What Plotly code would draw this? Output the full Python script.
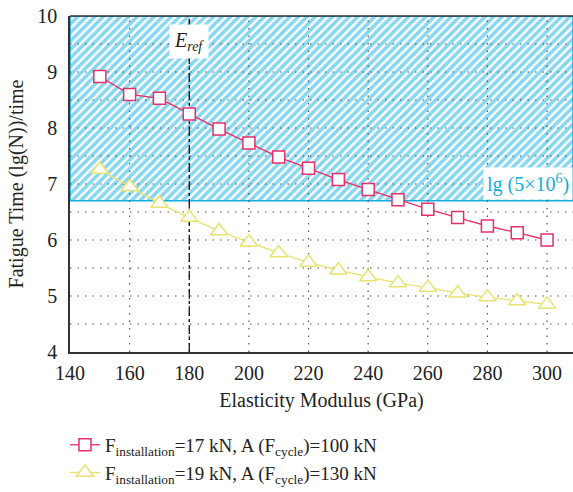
import plotly.graph_objects as go

modulus = [150, 160, 170, 180, 190, 200, 210, 220, 230, 240, 250, 260, 270, 280, 290, 300]
series_a = [8.92, 8.60, 8.53, 8.25, 7.98, 7.73, 7.48, 7.28, 7.08, 6.90, 6.72, 6.55, 6.40, 6.25, 6.13, 6.00]
series_b = [7.26, 6.95, 6.65, 6.40, 6.16, 5.96, 5.77, 5.60, 5.46, 5.34, 5.23, 5.15, 5.05, 4.98, 4.91, 4.85]
name_a = "F<sub>installation</sub>=17 kN, A (F<sub>cycle</sub>)=100 kN"
name_b = "F<sub>installation</sub>=19 kN, A (F<sub>cycle</sub>)=130 kN"
x_ticks = [140, 160, 180, 200, 220, 240, 260, 280, 300]
y_ticks = [4, 5, 6, 7, 8, 9, 10]
x_grid = [160, 180, 200, 220, 240, 260, 280, 300]
y_grid = [4.5, 5, 5.5, 6, 6.5, 7, 7.5, 8, 8.5, 9, 9.5]
x_range = [140, 308.7]
y_range = [4, 10]
threshold = 6.699  # lg(5e6)
e_ref = 180

FONT = "Times New Roman, Liberation Serif, serif"
RED = "#e5306a"
YEL = "#e9e26e"
CYAN = "#12ade0"
TXT = "#222222"

fig = go.Figure()

# hatched region
fig.add_trace(go.Scatter(
    x=[x_range[0], x_range[1], x_range[1], x_range[0], x_range[0]],
    y=[threshold, threshold, y_range[1], y_range[1], threshold],
    fill="toself", mode="lines", line=dict(color=CYAN, width=1.5),
    fillcolor="rgba(0,0,0,0)",
    fillpattern=dict(shape="/", fgcolor=CYAN, bgcolor="white", size=6, solidity=0.6),
    showlegend=False, hoverinfo="skip"))

# grid lines as dotted traces above the hatch
gx, gy = [], []
for v in y_grid:
    gx += [x_range[0], x_range[1], None]
    gy += [v, v, None]
for v in x_grid:
    gx += [v, v, None]
    gy += [y_range[0], y_range[1], None]
fig.add_trace(go.Scatter(x=gx, y=gy, mode="lines",
                         line=dict(color="#555555", width=1.2, dash="1.5px,6px"),
                         showlegend=False, hoverinfo="skip"))

# E_ref line
fig.add_trace(go.Scatter(x=[e_ref, e_ref], y=y_range, mode="lines",
                         line=dict(color="black", width=1.2, dash="dashdot"),
                         showlegend=False, hoverinfo="skip"))

fig.add_trace(go.Scatter(
    x=modulus, y=series_a, name=name_a, mode="lines+markers",
    line=dict(color=RED, width=1.3),
    marker=dict(symbol="square", size=12, color="white", line=dict(color=RED, width=1.5))))
fig.add_trace(go.Scatter(
    x=modulus, y=series_b, name=name_b, mode="lines+markers",
    line=dict(color=YEL, width=1.3),
    marker=dict(symbol="triangle-up", size=15, color="white", line=dict(color=YEL, width=1.5))))

fig.add_annotation(x=e_ref, y=9.55, text="<i>E<sub>ref</sub></i>", showarrow=False,
                   bgcolor="white", font=dict(family=FONT, size=20, color=TXT),
                   xanchor="center", yanchor="middle", borderpad=4)
fig.add_annotation(x=x_range[1], y=threshold, text="lg (5×10<sup>6</sup>)", showarrow=False,
                   bgcolor="white", font=dict(family=FONT, size=20, color=CYAN),
                   xanchor="right", yanchor="bottom", borderpad=3, yshift=1)

fig.update_layout(
    width=573, height=492,
    margin=dict(l=70, r=0, t=16, b=138),
    paper_bgcolor="white", plot_bgcolor="white",
    font=dict(family=FONT, size=20, color=TXT),
    legend=dict(x=-0.01, y=-0.22, xanchor="left", yanchor="top",
                font=dict(family=FONT, size=19, color=TXT),
                bgcolor="rgba(0,0,0,0)", tracegroupgap=0, itemwidth=30),
)
fig.update_xaxes(range=x_range, tickvals=x_ticks, showgrid=False, zeroline=False,
                 showline=True, linecolor="#333333", linewidth=1.5, ticks="",
                 ticklabelstandoff=2,
                 title=dict(text="Elasticity Modulus (GPa)", standoff=10,
                            font=dict(family=FONT, size=20, color=TXT)),
                 tickfont=dict(family=FONT, size=20, color=TXT))
fig.update_yaxes(range=y_range, tickvals=y_ticks, showgrid=False, zeroline=False,
                 showline=True, linecolor="#333333", linewidth=1.5, ticks="",
                 ticklabelstandoff=7,
                 title=dict(text="Fatigue Time (lg(N))/time", standoff=8,
                            font=dict(family=FONT, size=20, color=TXT)),
                 tickfont=dict(family=FONT, size=20, color=TXT))
# top border
fig.add_shape(type="line", xref="paper", yref="paper", x0=0, x1=1, y0=1, y1=1,
              line=dict(color="#333333", width=1.5))

fig.write_html("out.html")
